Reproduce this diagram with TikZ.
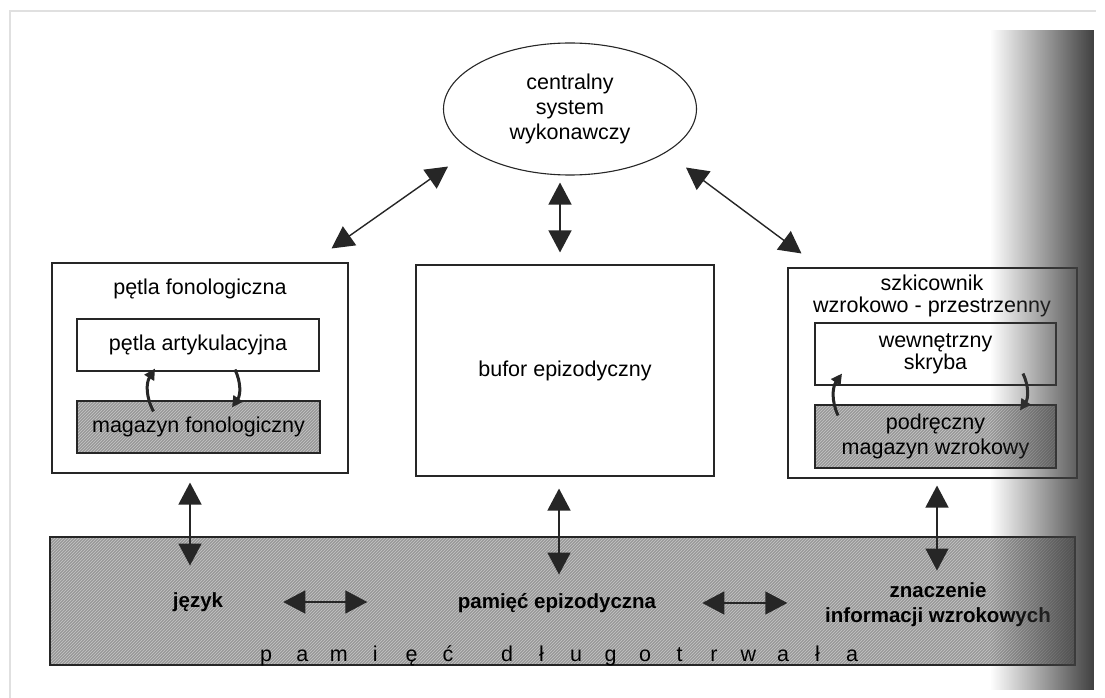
\documentclass[tikz,border=0pt]{standalone}
\usepackage{fontspec}
\setmainfont{Liberation Sans}
\usetikzlibrary{calc,arrows.meta,shapes.geometric,patterns,fadings}

\tikzfading[name=cien, left color=transparent!100, middle color=transparent!75, right color=transparent!0]

\tikzset{%
    ramka/.style={draw=black!85, line width=1.1pt, inner sep=0pt},%
    biala/.style={ramka, fill=white},%
    szara/.style={ramka, preaction={fill=black!40}, pattern=north east lines, pattern color=black!22},%
    strz/.style={{Triangle[length=22pt,width=23pt]}-{Triangle[length=22pt,width=23pt]}, line width=1.4pt, draw=black!85},%
    petla/.style={-{Triangle[length=11pt,width=11pt]}, line width=3pt, draw=black!85},%
    napis/.style={font=\fontsize{21.5}{25}\selectfont, align=center, inner sep=0pt},%
    gruby/.style={font=\fontsize{20.5}{25}\selectfont\bfseries, align=center, inner sep=0pt},%
}

\begin{document}
\begin{tikzpicture}[x=1pt, y=-1pt]
    % Model pamięci roboczej

    %
    % Tło i ramka kartki
    %
    \fill[white] (0,0) rectangle (1105,698);
    \useasboundingbox (0,0) rectangle (1105,698);
    \draw[black!12, line width=2pt] (10,698) -- (10,11) -- (1096,11);

    % Centralny system wykonawczy
    \node[ellipse, draw=black!85, line width=1.1pt, minimum width=253pt, minimum height=132pt, napis] (csw) at (570,109) {centralny\\system\\wykonawczy};

    % Pętla fonologiczna
    \node[biala, minimum width=296pt, minimum height=210pt] (pf) at (200,368) {};
    \node[napis] (pft) at (200,289) {pętla fonologiczna};
    \node[biala, napis, minimum width=242pt, minimum height=52pt] (pa) at (198,345) {pętla artykulacyjna};
    \node[szara, napis, minimum width=243pt, minimum height=52pt] (mf) at (198.5,427) {magazyn fonologiczny};

    % Bufor epizodyczny
    \node[biala, napis, minimum width=298pt, minimum height=211pt] (be) at (565,370.5) {bufor epizodyczny};

    % Szkicownik wzrokowo-przestrzenny
    \node[biala, minimum width=289pt, minimum height=210pt] (sz) at (932.5,373) {};
    \node[napis, font=\fontsize{21.5}{22}\selectfont] (szt) at (932,296) {szkicownik\\wzrokowo - przestrzenny};
    \node[biala, napis, font=\fontsize{21.5}{22}\selectfont, minimum width=241pt, minimum height=62pt] (ws) at (935.5,354) {wewnętrzny\\skryba};
    \node[szara, napis, minimum width=241pt, minimum height=63pt] (pm) at (935.5,436.5) {podręczny\\magazyn wzrokowy};

    % Pamięć długotrwała
    \node[szara, minimum width=1025pt, minimum height=128pt] (pd) at (562.5,601) {};
    \node[gruby] (jz) at (198,602) {język};
    \node[gruby] (pe) at (557,603) {pamięć epizodyczna};
    \node[gruby] (zn) at (938,605) {znaczenie\\informacji wzrokowych};
    \foreach \lit [count=\i from 0] in {p,a,m,i,ę,ć}
        \node[napis, anchor=base] (dl\i) at (266+36.4*\i,661) {\lit};
    \foreach \lit [count=\i from 0] in {d,ł,u,g,o,t,r,w,a,ł,a}
        \node[napis, anchor=base] (dt\i) at (507+34.5*\i,661) {\lit};

    % Strzałki do centralnego systemu
    \draw[strz] ($(pf.north east)+(-17,-14)$) -- ($(csw.south)+(-122,-9)$);
    \draw[strz] ($(csw.south)+(-10,7)$) -- ($(be.north)+(-5,-12)$);
    \draw[strz] ($(csw.south)+(116,-8)$) -- ($(sz.north west)+(14,-14)$);

    % Strzałki do pamięci długotrwałej
    \draw[strz] ($(pf.south)+(-10,9)$) -- ++(0,83);
    \draw[strz] ($(be.south)+(-6,12)$) -- ++(0,86);
    \draw[strz] ($(sz.south)+(4.5,7)$) -- ++(0,85);
    \draw[strz] ($(jz.east)+(60,0)$) -- ++(84,0);
    \draw[strz] ($(pe.east)+(46,0)$) -- ++(85,0);

    % Pętle wewnętrzne
    \draw[petla] ($(mf.north)+(-45,11)$) to[bend left=30] ($(pa.south)+(-43,-3)$);
    \draw[petla] ($(pa.south)+(37,-2)$) to[bend left=30] ($(mf.north)+(33.5,7)$);
    \draw[petla] ($(pm.north)+(-97.5,11)$) to[bend left=30] ($(ws.south)+(-93.5,-12)$);
    \draw[petla] ($(ws.south)+(87.5,-12)$) to[bend left=30] ($(pm.north)+(84.5,6)$);

    % Cień skanu
    \fill[black!75, path fading=cien] (990,30) rectangle (1094,690);

\end{tikzpicture}
\end{document}
